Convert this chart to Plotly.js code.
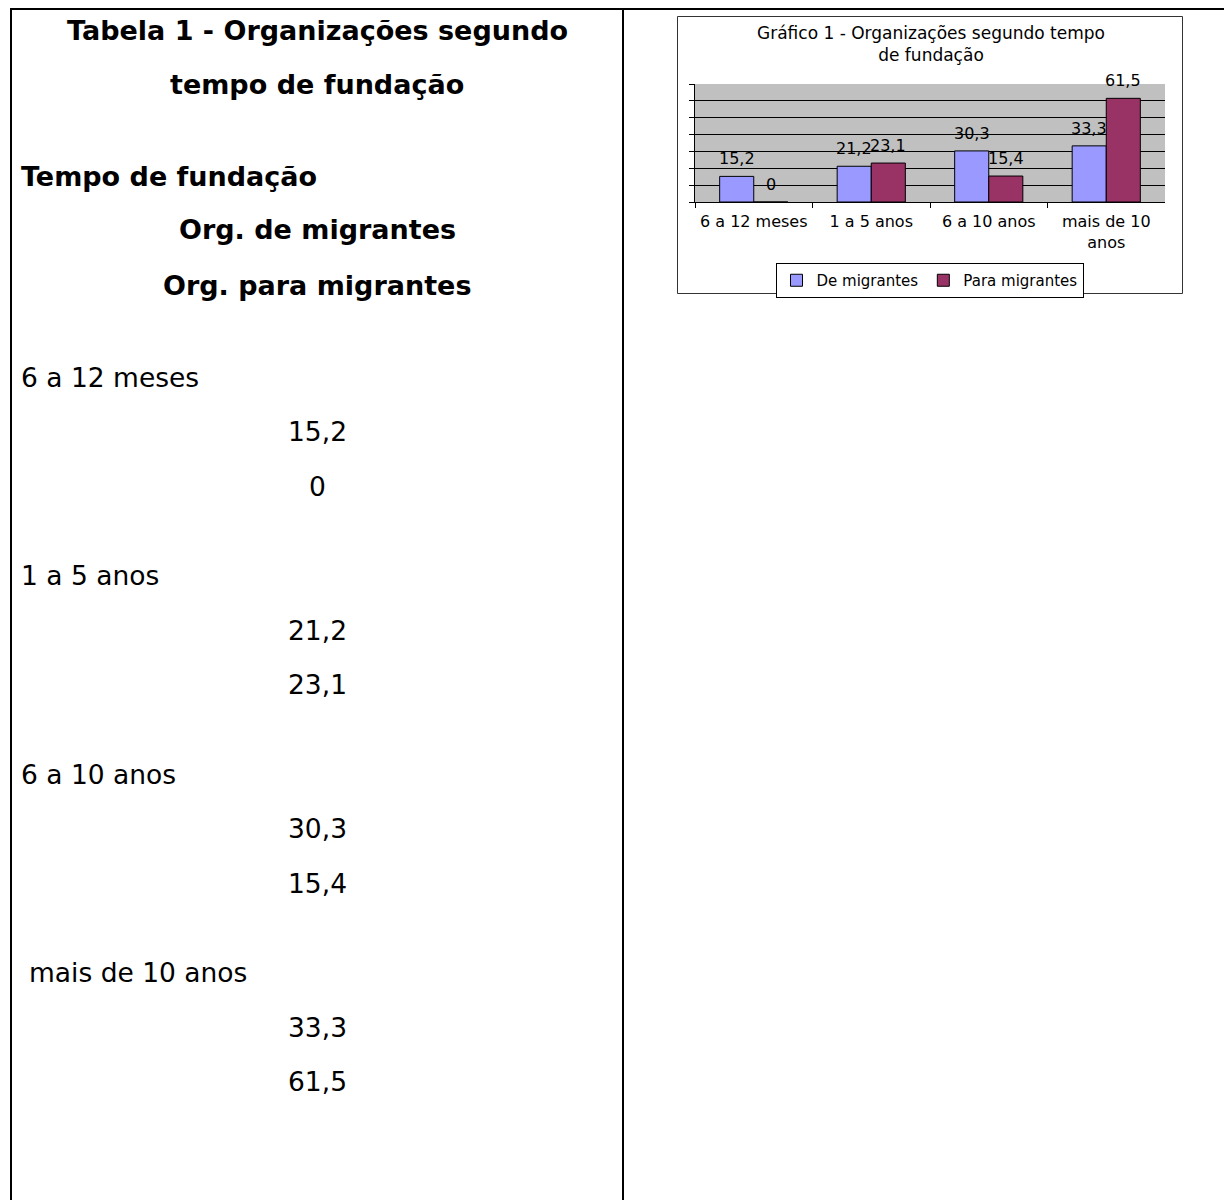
<!DOCTYPE html>
<html>
<head>
<meta charset="utf-8">
<script src="https://cdn.plot.ly/plotly-3.0.1.min.js"></script>
<style>html,body{margin:0;padding:0;background:#fff;}#chart{width:1224px;height:1200px;}</style>
</head>
<body>
<div id="chart"></div>
<script>
// ---- data ----
const categories = ['6 a 12 meses', '1 a 5 anos', '6 a 10 anos', 'mais de 10 anos'];
const tickLabels = ['6 a 12 meses', '1 a 5 anos', '6 a 10 anos', 'mais de 10<br>anos'];
const deMigrantes = [15.2, 21.2, 30.3, 33.3];
const paraMigrantes = [0, 23.1, 15.4, 61.5];
const seriesNames = ['De migrantes', 'Para migrantes'];
const tableTitleLines = ['Tabela 1 - Organizações segundo', 'tempo de fundação'];
const tableHeaders = ['Tempo de fundação', 'Org. de migrantes', 'Org. para migrantes'];
const chartTitle = 'Gráfico 1 - Organizações segundo tempo<br>de fundação';

// ---- helpers ----
const W = 1224, H = 1200;
const px = x => x / W;
const py = y => 1 - y / H;
const fmt = v => String(v).replace('.', ',');

const chartFont = {family: 'DejaVu Sans, Verdana, sans-serif', size: 16, color: '#000'};
const docFont = 'DejaVu Sans, Verdana, Tahoma, sans-serif';

const series = [deMigrantes, paraMigrantes];
const colors = ['#9999FF', '#993366'];
const traces = series.map((vals, s) => ({
  type: 'bar', name: seriesNames[s], x: categories, y: vals,
  marker: {color: colors[s], line: {color: '#000', width: 1}},
  hoverinfo: 'skip'
}));

// ---- document (left column) text ----
const annotations = [];
const colCenter = px(317);
tableTitleLines.forEach((t, i) => {
  annotations.push({text: '<b>' + t + '</b>', x: colCenter, y: py(30 + i * 55), xref: 'paper', yref: 'paper',
    xanchor: 'center', yanchor: 'middle', showarrow: false, font: {family: docFont, size: 27, color: '#000'}});
});
annotations.push({text: '<b>' + tableHeaders[0] + '</b>', x: px(19), y: py(176), xref: 'paper', yref: 'paper',
  xanchor: 'left', yanchor: 'middle', showarrow: false, font: {family: docFont, size: 27, color: '#000'}});
tableHeaders.slice(1).forEach((t, i) => {
  annotations.push({text: '<b>' + t + '</b>', x: colCenter, y: py(230 + i * 55), xref: 'paper', yref: 'paper',
    xanchor: 'center', yanchor: 'middle', showarrow: false, font: {family: docFont, size: 27, color: '#000'}});
});
const rowIndent = [0, 0, 0, 8];
categories.forEach((c, i) => {
  const top = 377 + i * 198.5;
  annotations.push({text: c, x: px(19 + rowIndent[i]), y: py(top), xref: 'paper', yref: 'paper',
    xanchor: 'left', yanchor: 'middle', showarrow: false, font: {family: docFont, size: 26.5, color: '#000'}});
  annotations.push({text: fmt(deMigrantes[i]), x: colCenter, y: py(top + 54.5), xref: 'paper', yref: 'paper',
    xanchor: 'center', yanchor: 'middle', showarrow: false, font: {family: docFont, size: 26.5, color: '#000'}});
  annotations.push({text: fmt(paraMigrantes[i]), x: colCenter, y: py(top + 109), xref: 'paper', yref: 'paper',
    xanchor: 'center', yanchor: 'middle', showarrow: false, font: {family: docFont, size: 26.5, color: '#000'}});
});

// ---- bar value labels (placed from data on the chart axes) ----
const barShift = [-17, 17];
series.forEach((vals, s) => {
  vals.forEach((v, i) => {
    annotations.push({text: fmt(v), x: categories[i], y: v, xref: 'x', yref: 'y',
      xshift: barShift[s], yshift: 6, xanchor: 'center', yanchor: 'bottom',
      showarrow: false, font: chartFont});
  });
});

const shapes = [
  {type: 'line', xref: 'paper', yref: 'paper', x0: px(10), x1: px(1224), y0: py(9), y1: py(9), line: {color: '#000', width: 2}},
  {type: 'line', xref: 'paper', yref: 'paper', x0: px(11), x1: px(11), y0: py(8), y1: py(1200), line: {color: '#000', width: 2}},
  {type: 'line', xref: 'paper', yref: 'paper', x0: px(623), x1: px(623), y0: py(8), y1: py(1200), line: {color: '#000', width: 2}},
  {type: 'rect', xref: 'paper', yref: 'paper', x0: px(677.5), x1: px(1182.5), y0: py(16.5), y1: py(293.5), line: {color: '#333', width: 1}}
];

const layout = {
  width: W, height: H, autosize: false,
  margin: {l: 0, r: 0, t: 0, b: 0, pad: 0},
  paper_bgcolor: '#fff', plot_bgcolor: '#C0C0C0',
  font: chartFont,
  title: {text: chartTitle, font: {family: chartFont.family, size: 17, color: '#000'}, x: px(931), xref: 'paper', xanchor: 'center',
    y: py(39), yref: 'paper', yanchor: 'middle'},
  barmode: 'group', bargap: 0.42, bargroupgap: 0,
  xaxis: {
    domain: [px(695), px(1165)], type: 'category',
    tickvals: categories, ticktext: tickLabels,
    showline: true, linecolor: '#000', linewidth: 1,
    ticks: 'outside', tickson: 'boundaries', ticklen: 5, tickcolor: '#000',
    ticklabelstandoff: 5,
    showgrid: false, zeroline: false, tickfont: chartFont, fixedrange: true
  },
  yaxis: {
    domain: [py(202), py(84)], range: [0, 70], dtick: 10,
    showline: true, linecolor: '#000', linewidth: 1,
    ticks: 'outside', ticklen: 5, tickcolor: '#000',
    showticklabels: false, showgrid: true, gridcolor: '#000', gridwidth: 1,
    zeroline: false, fixedrange: true
  },
  showlegend: true,
  legend: {
    orientation: 'h', x: px(929.5), xanchor: 'center', y: py(263), yanchor: 'top',
    xref: 'paper', yref: 'paper', itemwidth: 30,
    bgcolor: '#fff', bordercolor: '#000', borderwidth: 1, font: {family: chartFont.family, size: 15, color: '#000'},
    itemclick: false, itemdoubleclick: false
  },
  annotations: annotations,
  shapes: shapes
};

Plotly.newPlot('chart', traces, layout, {displayModeBar: false, staticPlot: true});
</script>
</body>
</html>
